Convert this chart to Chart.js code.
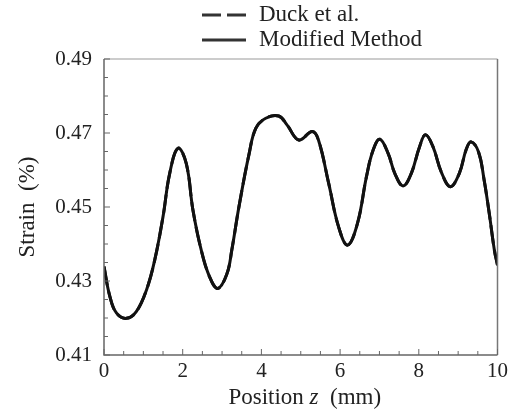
<!DOCTYPE html>
<html>
<head>
<meta charset="utf-8">
<script src="https://cdn.jsdelivr.net/npm/chart.js@4.4.1/dist/chart.umd.min.js"></script>
<style>
  html, body { margin: 0; padding: 0; background: #fff; }
  #wrap { width: 512px; height: 418px; }
</style>
</head>
<body>
<div id="wrap"><canvas id="c" width="512" height="418"></canvas></div>
<script>
// ---- data ----
const positions = [0, 0.15, 0.32, 0.57, 0.82, 1.08, 1.29, 1.5, 1.67, 1.88, 2.09, 2.26, 2.47, 2.68, 2.89, 3.12, 3.25, 3.43, 3.69, 3.86, 4.11, 4.44, 4.65, 4.95, 5.29, 5.45, 5.71, 5.96, 6.19, 6.44, 6.67, 6.84, 7.01, 7.22, 7.39, 7.6, 7.81, 8.02, 8.17, 8.36, 8.57, 8.8, 9.03, 9.2, 9.33, 9.52, 9.66, 9.79, 9.92, 10];
const modifiedStrain = [0.4339, 0.4258, 0.4213, 0.4199, 0.4217, 0.4276, 0.4357, 0.4474, 0.4591, 0.4659, 0.4618, 0.4492, 0.4384, 0.4312, 0.428, 0.4318, 0.4385, 0.4501, 0.4645, 0.4713, 0.474, 0.4746, 0.4722, 0.4681, 0.4704, 0.4681, 0.4564, 0.4447, 0.4397, 0.4455, 0.4582, 0.4654, 0.4683, 0.4645, 0.4591, 0.4557, 0.4591, 0.4663, 0.4695, 0.4663, 0.4595, 0.4555, 0.4591, 0.4654, 0.4676, 0.4648, 0.4573, 0.4483, 0.4384, 0.4343];
const duckStrain = [0.4339, 0.4258, 0.4213, 0.4199, 0.4217, 0.4276, 0.4357, 0.4474, 0.4591, 0.4659, 0.4618, 0.4492, 0.4384, 0.4312, 0.428, 0.4318, 0.4385, 0.4501, 0.4645, 0.4713, 0.474, 0.4746, 0.4722, 0.4681, 0.4704, 0.4681, 0.4564, 0.4447, 0.4397, 0.4455, 0.4582, 0.4654, 0.4683, 0.4645, 0.4591, 0.4557, 0.4591, 0.4663, 0.4695, 0.4663, 0.4595, 0.4555, 0.4591, 0.4654, 0.4676, 0.4648, 0.4573, 0.4483, 0.4384, 0.4343];
const seriesLabels = ['Duck et al.', 'Modified Method'];
const xTickValues = [0, 2, 4, 6, 8, 10];
const yTickValues = [0.41, 0.43, 0.45, 0.47, 0.49];
const xTitleParts = ['Position ', 'z', '  (mm)'];
const yTitle = 'Strain  (%)';

const FONT = '"Liberation Serif", "Times New Roman", serif';
const FS = 21;   // tick labels
const FT = 23;   // titles & legend
const TXT = '#222';

const toPts = (xs, ys) => xs.map((x, i) => ({ x: x, y: ys[i] }));

const framePlugin = {
  id: 'frame',
  afterDraw(chart) {
    const ctx = chart.ctx;
    const a = chart.chartArea;
    const xs = chart.scales.x, ys = chart.scales.y;
    ctx.save();
    // frame
    ctx.lineWidth = 1.5;
    ctx.strokeStyle = '#bbb';
    ctx.beginPath(); ctx.moveTo(a.left, a.top); ctx.lineTo(a.right, a.top); ctx.stroke();
    ctx.strokeStyle = '#777';
    ctx.beginPath(); ctx.moveTo(a.right, a.top); ctx.lineTo(a.right, a.bottom); ctx.stroke();
    ctx.strokeStyle = '#666';
    ctx.beginPath(); ctx.moveTo(a.left, a.top); ctx.lineTo(a.left, a.bottom); ctx.lineTo(a.right, a.bottom); ctx.stroke();
    // inward ticks
    ctx.lineWidth = 1;
    ctx.strokeStyle = '#666';
    for (let k = 0; k <= 20; k++) {
      const v = k * 0.5;
      const px = xs.getPixelForValue(v);
      const major = k % 4 === 0;
      ctx.beginPath(); ctx.moveTo(px, a.bottom); ctx.lineTo(px, a.bottom - (major ? 6 : 4)); ctx.stroke();
    }
    for (let k = 0; k <= 16; k++) {
      const v = 0.41 + k * 0.005;
      const py = ys.getPixelForValue(v);
      const major = k % 4 === 0;
      ctx.beginPath(); ctx.moveTo(a.left, py); ctx.lineTo(a.left + (major ? 6 : 4), py); ctx.stroke();
    }
    // x-axis title with italic z
    ctx.fillStyle = TXT;
    ctx.textBaseline = 'middle';
    const fonts = [FT + 'px ' + FONT, 'italic ' + FT + 'px ' + FONT, FT + 'px ' + FONT];
    let total = 0;
    const widths = xTitleParts.map((t, i) => { ctx.font = fonts[i]; const w = ctx.measureText(t).width; total += w; return w; });
    let x = (a.left + a.right) / 2 + 4 - total / 2;
    xTitleParts.forEach((t, i) => { ctx.font = fonts[i]; ctx.textAlign = 'left'; ctx.fillText(t, x, 398); x += widths[i]; });
    // legend
    ctx.font = FT + 'px ' + FONT;
    const rows = [15, 40];
    chart.data.datasets.forEach((ds, i) => {
      const y = rows[i];
      ctx.strokeStyle = '#333';
      ctx.lineWidth = 3;
      ctx.setLineDash(ds.borderDash || []);
      ctx.beginPath(); ctx.moveTo(202, y); ctx.lineTo(246, y); ctx.stroke();
      ctx.setLineDash([]);
      ctx.fillStyle = TXT;
      ctx.textAlign = 'left';
      ctx.fillText(ds.label, 259, y);
    });
    ctx.restore();
  }
};

new Chart(document.getElementById('c'), {
  type: 'line',
  data: {
    datasets: [
      { label: seriesLabels[0], data: toPts(positions, duckStrain), borderColor: '#111', borderWidth: 3, borderDash: [19, 6], pointRadius: 0, tension: 0.4, fill: false },
      { label: seriesLabels[1], data: toPts(positions, modifiedStrain), borderColor: '#111', borderWidth: 3, pointRadius: 0, tension: 0.4, fill: false }
    ]
  },
  options: {
    responsive: false,
    animation: false,
    layout: { padding: { top: 59, right: 12, left: 0, bottom: 0 } },
    plugins: { legend: { display: false }, tooltip: { enabled: false } },
    scales: {
      x: {
        type: 'linear', min: 0, max: 10,
        afterBuildTicks: s => { s.ticks = xTickValues.map(v => ({ value: v })); },
        afterFit: s => { s.height = 63; },
        grid: { display: false, drawTicks: false },
        border: { display: false },
        ticks: { padding: 4, color: TXT, font: { family: FONT, size: FS }, maxRotation: 0, callback: v => String(v) }
      },
      y: {
        type: 'linear', min: 0.41, max: 0.49,
        afterBuildTicks: s => { s.ticks = yTickValues.map(v => ({ value: v })); },
        afterFit: s => { s.width = 104; },
        grid: { display: false, drawTicks: false },
        border: { display: false },
        title: { display: true, text: yTitle, color: TXT, font: { family: FONT, size: FT }, padding: { top: 14, bottom: 0 } },
        ticks: { padding: 12, color: TXT, font: { family: FONT, size: FS }, callback: v => Number(v).toFixed(2) }
      }
    }
  },
  plugins: [framePlugin]
});
</script>
</body>
</html>
